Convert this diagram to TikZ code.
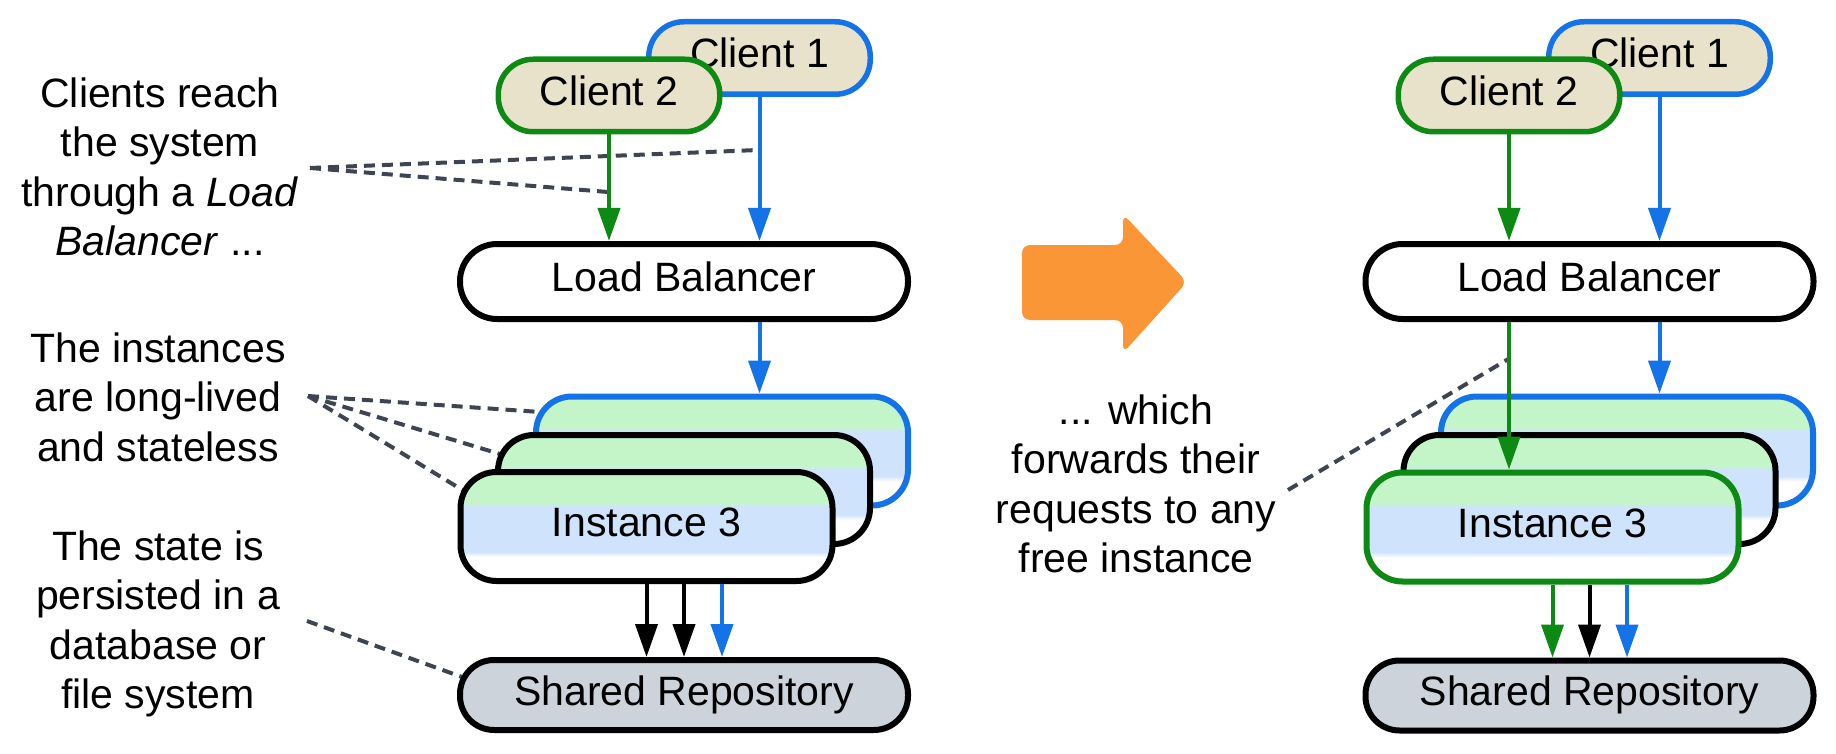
\documentclass[tikz,border=0pt]{standalone}
\usepackage{fontspec}
\setmainfont{Liberation Sans}
\usetikzlibrary{arrows.meta}
\definecolor{cgreen}{HTML}{0D8A14}
\definecolor{cblue}{HTML}{1473E6}
\definecolor{cbeige}{HTML}{E8E2CA}
\definecolor{cgray}{HTML}{CDD3DB}
\definecolor{corange}{HTML}{FB9637}
\definecolor{cdash}{HTML}{3E4450}
\definecolor{igreen}{HTML}{C3F5C8}
\definecolor{iblue}{HTML}{CFE3FC}
\pgfdeclareverticalshading{instshade}{100bp}{color(0bp)=(white); color(36bp)=(white); color(38.5bp)=(iblue); color(59bp)=(iblue); color(61bp)=(igreen); color(100bp)=(igreen)}
\begin{document}
\begin{tikzpicture}[x=1pt,y=-1pt,
  every node/.style={font=\fontsize{41}{49.5}\selectfont, inner sep=0pt},
  boxtext/.style={text height=30pt, text depth=10pt},
  client/.style={boxtext, draw, line width=5.5pt, fill=cbeige, rounded corners=35pt, minimum width=221.5pt, minimum height=72.5pt},
  lbbox/.style={boxtext, draw=black, line width=6pt, fill=white, rounded corners=37pt, minimum width=448pt, minimum height=75pt},
  inst/.style={boxtext, draw, line width=6pt, shade, shading=instshade, rounded corners=36pt, minimum width=372pt, minimum height=109pt},
  repo/.style={boxtext, draw=black, line width=6pt, fill=cgray, rounded corners=34pt, minimum width=448pt, minimum height=70pt},
  note/.style={align=center},
  arr/.style={line width=4pt, -{Triangle[length=33pt,width=22pt]}},
  dline/.style={cdash, line width=4pt, dash pattern=on 11pt off 7pt},
]
\useasboundingbox (0,0) rectangle (1836,754);

% annotation texts
\node[note] (t1) at (160,167) {Clients reach\\the system\\through a \textit{Load}\\\textit{Balancer} ...};
\node[note] (t2) at (158,397) {The instances\\are long-lived\\and stateless};
\node[note] (t3) at (158,624) {The state is\\persisted in a\\database or\\file system};
\node[note] (t4) at (1136,484) {... which\\forwards their\\requests to any\\free instance};

% dashed leader lines
\coordinate (d1s) at (310,168);
\coordinate (d1a) at (758,150);
\coordinate (d1b) at (608,192);
\coordinate (d2s) at (308,396);
\coordinate (d2a) at (540,412);
\coordinate (d2b) at (500,454);
\coordinate (d2c) at (464,491);
\coordinate (d3s) at (307,621);
\coordinate (d3a) at (462,677);
\coordinate (d4s) at (1288,490);
\coordinate (d4a) at (1510,358);
\draw[dline] (d1s) -- (d1a);
\draw[dline] (d1s) -- (d1b);
\draw[dline] (d2s) -- (d2a);
\draw[dline] (d2s) -- (d2b);
\draw[dline] (d2s) -- (d2c);
\draw[dline] (d3s) -- (d3a);
\draw[dline] (d4s) -- (d4a);

% orange transition arrow
\fill[corange, rounded corners=8pt] (1022,282) -- (1022,245) -- (1123,245) -- (1123,214) -- (1187,282) -- (1123,353) -- (1123,320) -- (1022,320) -- cycle;

% left diagram
\node[client, draw=cblue] (c1) at (759.5,58) {Client 1};
\node[client, draw=cgreen] (c2) at (609,95.5) {Client 2};
\node[lbbox] (lb) at (684,281.5) {Load Balancer};
\node[inst, draw=cblue] (inst1) at (722,451) {};
\node[inst, draw=black] (inst2) at (684,489.5) {};
\node[inst, draw=black] (inst3) at (646.5,526.5) {Instance 3};
\node[repo] (sr) at (684,695) {Shared Repository};

\draw[arr, cgreen] (c2.south) -- (c2.south |- lb.north);
\draw[arr, cblue] (c1.south) -- (c1.south |- lb.north);
\draw[arr, cblue] (lb.south -| c1) -- (inst1.north -| c1);
\draw[arr, black] (inst3.south) -- (inst3.south |- sr.north);
\draw[arr, black] (inst3.south -| sr) -- (sr.north);
\draw[arr, cblue] (inst3.south -| inst1) -- (sr.north -| inst1);

% right diagram
\node[client, draw=cblue] (c1R) at (1659.5,58) {Client 1};
\node[client, draw=cgreen] (c2R) at (1509,95.5) {Client 2};
\node[lbbox] (lbR) at (1589.5,281.5) {Load Balancer};
\node[inst, draw=cblue] (inst1R) at (1627,451) {};
\node[inst, draw=black] (inst2R) at (1589.5,489.5) {};
\node[inst, draw=cgreen] (inst3R) at (1552.5,527) {Instance 3};
\node[repo] (srR) at (1589.5,695.5) {Shared Repository};

\draw[arr, cgreen] (c2R.south) -- (c2R.south |- lbR.north);
\draw[arr, cblue] (c1R.south) -- (c1R.south |- lbR.north);
\draw[arr, cgreen] (lbR.south -| c2R) -- (inst3R.north -| c2R);
\draw[arr, cblue] (lbR.south -| c1R) -- (inst1R.north -| c1R);
\draw[arr, cgreen] (inst3R.south) -- (inst3R.south |- srR.north);
\draw[arr, black] (inst3R.south -| srR) -- (srR.north);
\draw[arr, cblue] (inst3R.south -| inst1R) -- (srR.north -| inst1R);
\end{tikzpicture}
\end{document}
